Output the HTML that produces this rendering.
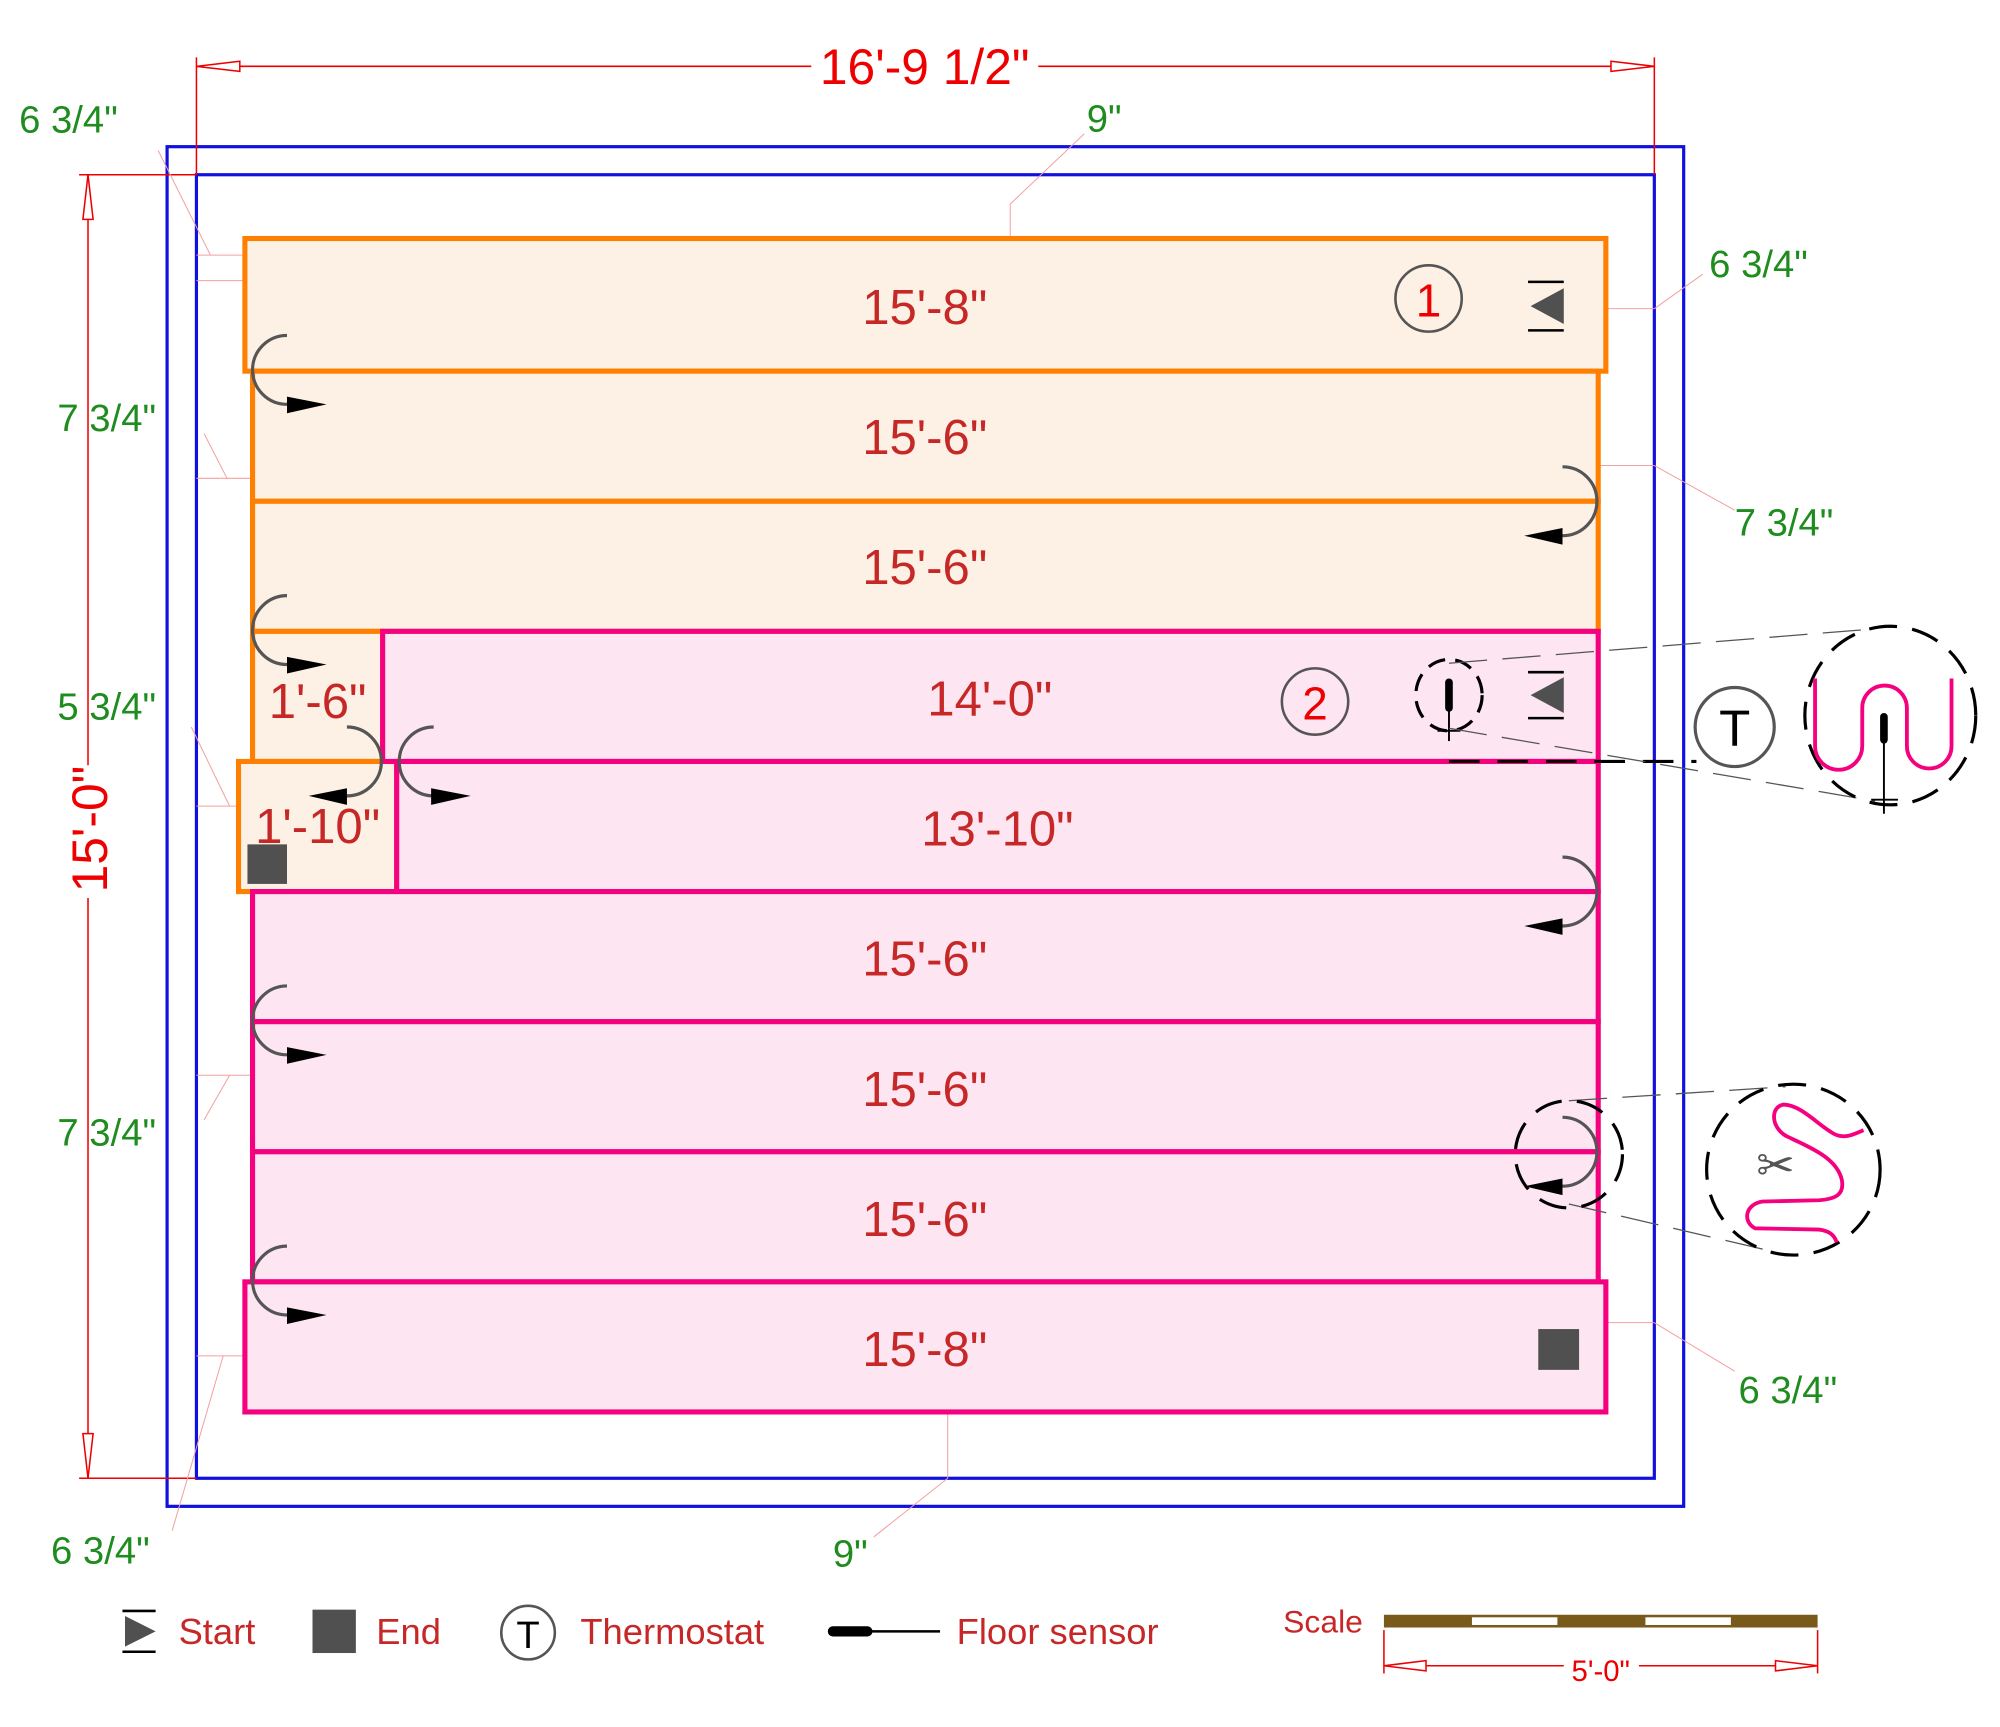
<!DOCTYPE html>
<html><head><meta charset="utf-8"><style>
html,body{margin:0;padding:0;background:#fff}
svg{display:block}
text{font-family:"Liberation Sans",sans-serif}
</style></head><body>
<svg width="2000" height="1727" viewBox="0 0 1568 1354" preserveAspectRatio="none" xmlns="http://www.w3.org/2000/svg">
<!-- blue walls -->
<rect x="131" y="115" width="1189" height="1066" fill="none" stroke="#1010e0" stroke-width="2.5"/>
<rect x="154" y="137" width="1143" height="1022" fill="none" stroke="#1010e0" stroke-width="2.5"/>

<!-- top dimension -->
<g stroke="#e00" stroke-width="1.2" fill="none">
<line x1="154" y1="45" x2="154" y2="137"/>
<line x1="1297" y1="45" x2="1297" y2="137"/>
<line x1="154" y1="52" x2="636" y2="52"/>
<line x1="814" y1="52" x2="1297" y2="52"/>
<path d="M154,52 L188,48 L188,56 Z" fill="#fff"/>
<path d="M1297,52 L1263,48 L1263,56 Z" fill="#fff"/>
<line x1="62" y1="137" x2="154" y2="137"/>
<line x1="62" y1="1159" x2="154" y2="1159"/>
<line x1="69" y1="137" x2="69" y2="600"/>
<line x1="69" y1="704" x2="69" y2="1159"/>
<path d="M69,137 L65,172 L73,172 Z" fill="#fff"/>
<path d="M69,1159 L65,1124 L73,1124 Z" fill="#fff"/>
</g>
<text x="725" y="66" font-size="39" fill="#e00" text-anchor="middle">16'-9 1/2"</text>
<text transform="translate(84,650) rotate(-90)" font-size="39" fill="#e00" text-anchor="middle">15'-0"</text>

<!-- leader lines -->
<g stroke="#f4a0a0" stroke-width="0.8" fill="none">
<line x1="124" y1="118" x2="165" y2="200"/><line x1="154" y1="200" x2="192" y2="200"/><line x1="154" y1="220" x2="192" y2="220"/>
<line x1="160" y1="340" x2="178" y2="375"/><line x1="154" y1="375" x2="198" y2="375"/>
<line x1="150" y1="570" x2="180" y2="632"/><line x1="154" y1="632" x2="187" y2="632"/>
<line x1="160" y1="878" x2="180" y2="843"/><line x1="154" y1="843" x2="198" y2="843"/>
<line x1="135" y1="1200" x2="175" y2="1063"/><line x1="154" y1="1063" x2="192" y2="1063"/>
<line x1="792" y1="187" x2="792" y2="160"/><line x1="792" y1="160" x2="850" y2="105"/>
<line x1="1259" y1="242" x2="1297" y2="242"/><line x1="1297" y1="242" x2="1335" y2="215"/>
<line x1="1253" y1="365" x2="1297" y2="365"/><line x1="1297" y1="365" x2="1360" y2="400"/>
<line x1="1259" y1="1037" x2="1297" y2="1037"/><line x1="1297" y1="1037" x2="1360" y2="1075"/>
<line x1="743" y1="1107" x2="743" y2="1159"/><line x1="743" y1="1159" x2="685" y2="1205"/>
</g>
<g fill="#1e8c1e" font-size="30">
<text x="15" y="104">6 3/4"</text>
<text x="852" y="103">9"</text>
<text x="1340" y="217">6 3/4"</text>
<text x="45" y="338">7 3/4"</text>
<text x="1360" y="420">7 3/4"</text>
<text x="45" y="564">5 3/4"</text>
<text x="45" y="898">7 3/4"</text>
<text x="1363" y="1100">6 3/4"</text>
<text x="40" y="1226">6 3/4"</text>
<text x="653" y="1228">9"</text>
</g>

<!-- orange rows -->
<g fill="#fdf0e4" stroke="#ff8000" stroke-width="4">
<rect x="192" y="187" width="1067" height="104"/>
<rect x="198" y="291" width="1055" height="102"/>
<rect x="198" y="393" width="1055" height="102"/>
<rect x="198" y="495" width="102" height="102"/>
<rect x="187" y="597" width="124" height="102"/>
</g>
<!-- pink rows -->
<g fill="#fde6f1" stroke="#f5007f" stroke-width="4">
<rect x="300" y="495" width="953" height="102"/>
<rect x="311" y="597" width="942" height="102"/>
<rect x="198" y="699" width="1055" height="102"/>
<rect x="198" y="801" width="1055" height="102"/>
<rect x="198" y="903" width="1055" height="102"/>
<rect x="192" y="1005" width="1067" height="102"/>
</g>
<g fill="#c62828" font-size="38.5" text-anchor="middle">
<text x="725" y="254">15'-8"</text>
<text x="725" y="356">15'-6"</text>
<text x="725" y="458">15'-6"</text>
<text x="776" y="561">14'-0"</text>
<text x="782" y="663">13'-10"</text>
<text x="725" y="765">15'-6"</text>
<text x="725" y="867">15'-6"</text>
<text x="725" y="969">15'-6"</text>
<text x="725" y="1071">15'-8"</text>
<text x="249" y="563">1'-6"</text>
<text x="249" y="661">1'-10"</text>
</g>
<g fill="none" stroke="#555" stroke-width="2">
<circle cx="1120" cy="234" r="26"/><circle cx="1031" cy="550" r="26"/>
</g>
<text x="1120" y="248" font-size="36" fill="#e00" text-anchor="middle">1</text>
<text x="1031" y="564" font-size="36" fill="#e00" text-anchor="middle">2</text>

<!-- start symbols -->
<g fill="#505050" stroke="#000" stroke-width="2">
<line x1="1198" y1="221" x2="1226" y2="221"/><line x1="1198" y1="259" x2="1226" y2="259"/>
<path d="M1200,240 L1226,226 L1226,254 Z" stroke="none"/>
<line x1="1198" y1="527" x2="1226" y2="527"/><line x1="1198" y1="563" x2="1226" y2="563"/>
<path d="M1200,545 L1226,531 L1226,559 Z" stroke="none"/>
</g>
<rect x="194" y="662" width="31" height="31" fill="#505050"/>
<rect x="1206" y="1042" width="32" height="32" fill="#505050"/>

<!-- U-turn arrows -->
<g fill="none" stroke="#555" stroke-width="2.5">
<path d="M225,263 A27,27 0 0 0 225,317"/>
<path d="M225,467 A27,27 0 0 0 225,521"/>
<path d="M225,773 A27,27 0 0 0 225,827"/>
<path d="M225,977 A27,27 0 0 0 225,1031"/>
<path d="M1225,366 A27,27 0 0 1 1225,420"/>
<path d="M1225,672 A27,27 0 0 1 1225,726"/>
<path d="M1225,876 A27,27 0 0 1 1225,930"/>
<path d="M272,570 A27,27 0 0 1 272,624"/>
<path d="M340,570 A27,27 0 0 0 340,624"/>
</g>
<g fill="#000">
<path d="M225,311 L256,317 L225,324 Z"/>
<path d="M225,515 L256,521 L225,528 Z"/>
<path d="M225,821 L256,827 L225,834 Z"/>
<path d="M225,1025 L256,1031 L225,1038 Z"/>
<path d="M1225,414 L1195,420 L1225,427 Z"/>
<path d="M1225,720 L1195,726 L1225,733 Z"/>
<path d="M1225,924 L1195,930 L1225,937 Z"/>
<path d="M272,618 L242,624 L272,631 Z"/>
<path d="M338,618 L369,624 L338,631 Z"/>
</g>

<!-- callouts -->
<g fill="none" stroke="#000">
<ellipse cx="1136" cy="545" rx="26" ry="28" stroke-width="2.5" stroke-dasharray="14,8"/>
<line x1="1136" y1="535" x2="1136" y2="555" stroke-width="6" stroke-linecap="round"/>
<line x1="1136" y1="555" x2="1136" y2="581" stroke-width="1.5"/>
<line x1="1127" y1="573" x2="1145" y2="573" stroke-width="1.5"/>
<line x1="1136" y1="597" x2="1330" y2="597" stroke-width="2.5" stroke-dasharray="24,14"/>
<g stroke="#555" stroke-width="1" stroke-dasharray="30,12">
<line x1="1136" y1="520" x2="1470" y2="493"/>
<line x1="1136" y1="571" x2="1470" y2="628"/>
<line x1="1230" y1="863" x2="1400" y2="852"/>
<line x1="1230" y1="944" x2="1385" y2="980"/>
</g>
<circle cx="1360" cy="570" r="31" stroke="#555" stroke-width="2.5"/>
<ellipse cx="1482" cy="561" rx="67" ry="70" stroke-width="2.5" stroke-dasharray="22,12"/>
<ellipse cx="1230" cy="905" rx="42" ry="42" stroke-width="2.5" stroke-dasharray="22,12"/>
<ellipse cx="1406" cy="917" rx="68" ry="67" stroke-width="2.5" stroke-dasharray="22,12"/>
</g>
<text x="1360" y="585" font-size="40" fill="#000" text-anchor="middle">T</text>
<path d="M1423,532 L1423,585 A18.5,18.5 0 0 0 1460,585 L1460,555 A17.5,17.5 0 0 1 1495,555 L1495,585 A17.5,17.5 0 0 0 1530,585 L1530,532" fill="none" stroke="#f5007f" stroke-width="3"/>
<line x1="1477" y1="562" x2="1477" y2="580" stroke="#000" stroke-width="6" stroke-linecap="round"/>
<line x1="1477" y1="580" x2="1477" y2="638" stroke="#000" stroke-width="1.5"/>
<line x1="1467" y1="627" x2="1488" y2="627" stroke="#000" stroke-width="1.5"/>
<path d="M1461,886 C1452,890 1446,893 1438,889 C1425,882 1412,866 1398,866 C1388,868 1388,884 1401,891 C1420,900 1440,908 1444,925 C1446,936 1440,940 1426,941 L1382,942 C1368,944 1366,958 1376,963 L1426,964 C1434,965 1438,968 1440,974" fill="none" stroke="#f5007f" stroke-width="3"/>
<text x="1392" y="926" font-size="36" fill="#555" text-anchor="middle">✂</text>

<!-- legend -->
<g stroke="#000" stroke-width="2">
<line x1="96" y1="1263" x2="122" y2="1263"/><line x1="96" y1="1295" x2="122" y2="1295"/>
</g>
<path d="M98,1267 L122,1279 L98,1291 Z" fill="#505050"/>
<g font-size="28.5" fill="#c62828">
<text x="140" y="1289">Start</text>
<text x="295" y="1289">End</text>
<text x="455" y="1289">Thermostat</text>
<text x="750" y="1289">Floor sensor</text>
</g>
<rect x="245" y="1262" width="34" height="34" fill="#505050"/>
<circle cx="414" cy="1280" r="21" fill="none" stroke="#555" stroke-width="2"/>
<text x="414" y="1292" font-size="30" fill="#000" text-anchor="middle">T</text>
<line x1="653" y1="1279" x2="680" y2="1279" stroke="#000" stroke-width="8" stroke-linecap="round"/>
<line x1="680" y1="1279" x2="737" y2="1279" stroke="#000" stroke-width="2"/>
<text x="1006" y="1280" font-size="25" fill="#c62828">Scale</text>
<rect x="1085" y="1266" width="340" height="10" fill="#7a5a1a"/>
<rect x="1154" y="1268" width="67" height="6" fill="#fff"/>
<rect x="1290" y="1268" width="67" height="6" fill="#fff"/>
<g stroke="#e00" stroke-width="1.2" fill="#fff">
<line x1="1085" y1="1278" x2="1085" y2="1312"/><line x1="1425" y1="1278" x2="1425" y2="1312"/>
<line x1="1085" y1="1306" x2="1226" y2="1306"/><line x1="1285" y1="1306" x2="1425" y2="1306"/>
<path d="M1085,1306 L1118,1302 L1118,1310 Z"/><path d="M1425,1306 L1392,1302 L1392,1310 Z"/>
</g>
<text x="1255" y="1318" font-size="23" fill="#e00" text-anchor="middle">5'-0"</text>
</svg>
</body></html>
